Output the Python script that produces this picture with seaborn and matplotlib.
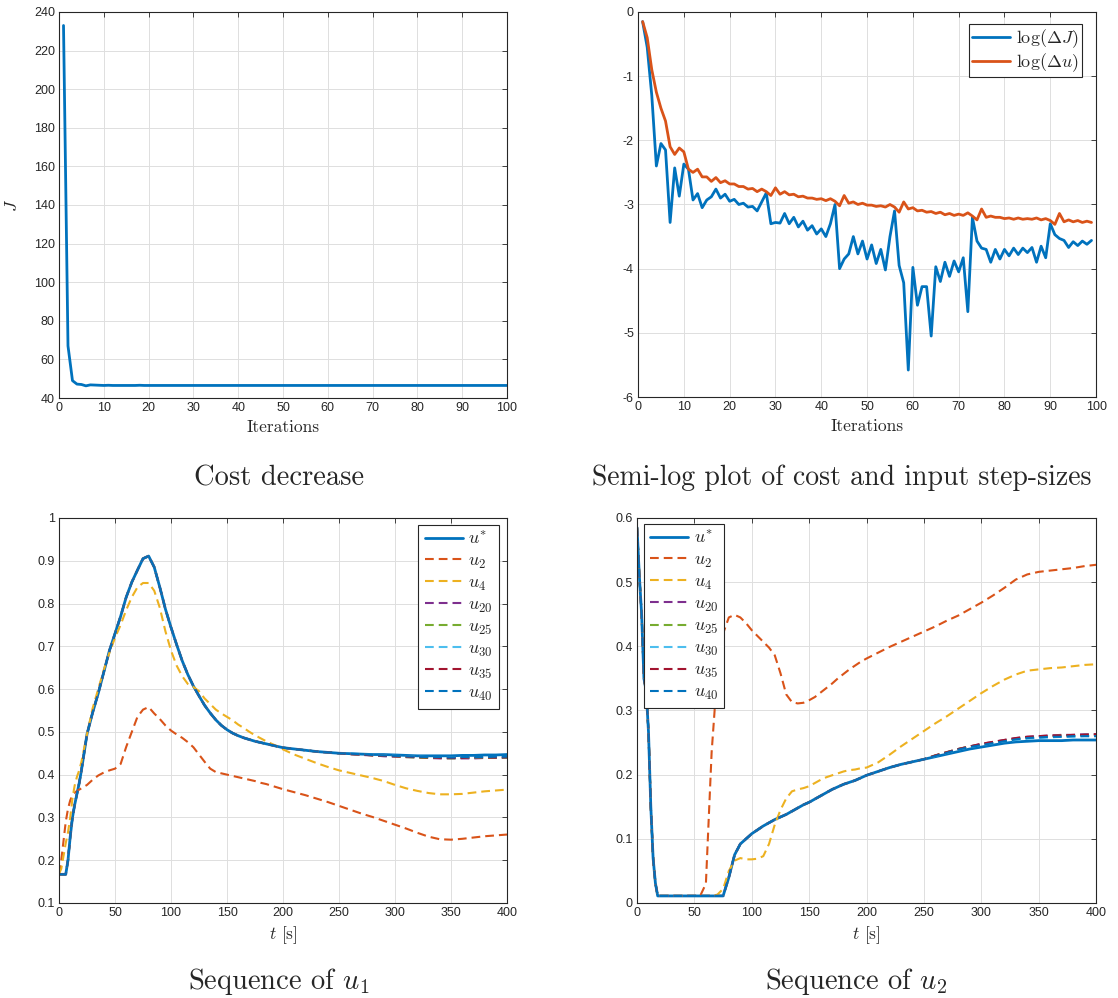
import numpy as np
import pandas as pd
import matplotlib
matplotlib.use('Agg')
import matplotlib.pyplot as plt
import seaborn as sns
from matplotlib.ticker import MultipleLocator, FuncFormatter

# ---------------- data ----------------
# cost per iteration
iters_J = list(range(1, 101))
J = [233.0, 67.0, 49.0, 47.2, 47.0, 46.3, 46.8, 46.7, 46.6, 46.5,
     46.6, 46.5, 46.5, 46.5, 46.5, 46.5, 46.5, 46.6, 46.5, 46.5,
     46.5, 46.5, 46.5, 46.5, 46.5, 46.5, 46.5, 46.5, 46.5, 46.5,
     46.5, 46.5, 46.5, 46.5, 46.5, 46.5, 46.5, 46.5, 46.5, 46.5,
     46.5, 46.5, 46.5, 46.5, 46.5, 46.5, 46.5, 46.5, 46.5, 46.5,
     46.5, 46.5, 46.5, 46.5, 46.5, 46.5, 46.5, 46.5, 46.5, 46.5,
     46.5, 46.5, 46.5, 46.5, 46.5, 46.5, 46.5, 46.5, 46.5, 46.5,
     46.5, 46.5, 46.5, 46.5, 46.5, 46.5, 46.5, 46.5, 46.5, 46.5,
     46.5, 46.5, 46.5, 46.5, 46.5, 46.5, 46.5, 46.5, 46.5, 46.5,
     46.5, 46.5, 46.5, 46.5, 46.5, 46.5, 46.5, 46.5, 46.5, 46.5]

# log step sizes per iteration
iters_d = list(range(1, 100))
log_dJ = [-0.15, -0.55, -1.3, -2.4, -2.05, -2.15, -3.28, -2.43, -2.87, -2.37,
          -2.45, -2.93, -2.83, -3.05, -2.93, -2.88, -2.76, -2.9, -2.84, -2.95,
          -2.92, -3.0, -2.98, -3.04, -3.03, -3.1, -2.96, -2.82, -3.3, -3.28,
          -3.29, -3.14, -3.3, -3.2, -3.35, -3.26, -3.4, -3.33, -3.46, -3.38,
          -3.5, -3.3, -3.0, -4.0, -3.85, -3.77, -3.5, -3.77, -3.57, -3.85,
          -3.63, -3.92, -3.7, -4.02, -3.5, -3.1, -3.95, -4.22, -5.58, -3.98,
          -4.57, -4.28, -4.28, -5.05, -3.97, -4.2, -3.9, -4.12, -3.88, -4.05,
          -3.83, -4.67, -3.2, -3.57, -3.68, -3.7, -3.9, -3.7, -3.85, -3.7,
          -3.8, -3.68, -3.78, -3.68, -3.75, -3.67, -3.9, -3.65, -3.83, -3.3,
          -3.47, -3.53, -3.56, -3.67, -3.58, -3.64, -3.57, -3.62, -3.56]
log_du = [-0.15, -0.4, -0.9, -1.25, -1.5, -1.7, -2.1, -2.22, -2.12, -2.18,
          -2.45, -2.5, -2.45, -2.57, -2.57, -2.64, -2.58, -2.66, -2.63, -2.68,
          -2.68, -2.72, -2.72, -2.76, -2.75, -2.8, -2.76, -2.8, -2.86, -2.74,
          -2.84, -2.8, -2.85, -2.84, -2.88, -2.87, -2.9, -2.9, -2.92, -2.91,
          -2.94, -2.91, -2.95, -3.02, -2.86, -2.98, -2.96, -3.0, -2.98, -3.01,
          -3.01, -3.03, -3.02, -3.04, -3.0, -3.04, -3.12, -2.96, -3.07, -3.05,
          -3.1, -3.09, -3.12, -3.11, -3.14, -3.12, -3.16, -3.14, -3.17, -3.15,
          -3.17, -3.13, -3.18, -3.24, -3.07, -3.2, -3.18, -3.2, -3.2, -3.22,
          -3.21, -3.23, -3.21, -3.23, -3.22, -3.23, -3.21, -3.24, -3.22, -3.25,
          -3.31, -3.14, -3.27, -3.24, -3.27, -3.25, -3.28, -3.26, -3.28]

# sampling instants [s]
t = np.concatenate([np.arange(0, 21, 2), np.arange(25, 201, 5), np.arange(210, 401, 10)])

# input 1
u_star_1 = [0.167, 0.167, 0.167, 0.167, 0.2, 0.255, 0.3, 0.33, 0.355, 0.38, 0.41,
            0.495, 0.545, 0.59, 0.64, 0.69, 0.73, 0.77, 0.815, 0.85, 0.878,
            0.905, 0.911, 0.885, 0.838, 0.787, 0.744, 0.704, 0.666, 0.634, 0.607,
            0.584, 0.562, 0.544, 0.528, 0.515, 0.505, 0.497, 0.491, 0.486, 0.482,
            0.478, 0.475, 0.472, 0.469, 0.466, 0.463,
            0.46, 0.457, 0.454, 0.452, 0.45, 0.449, 0.448, 0.447, 0.447, 0.446,
            0.445, 0.444, 0.444, 0.444, 0.444, 0.445, 0.445, 0.446, 0.446, 0.447]
u2_1 = [0.168, 0.2, 0.245, 0.29, 0.32, 0.34, 0.352, 0.358, 0.362, 0.365, 0.368,
        0.376, 0.388, 0.398, 0.405, 0.41, 0.414, 0.425, 0.465, 0.5, 0.535,
        0.552, 0.558, 0.543, 0.53, 0.515, 0.503, 0.494, 0.486, 0.476, 0.464,
        0.447, 0.43, 0.414, 0.406, 0.403, 0.4, 0.397, 0.394, 0.391, 0.388,
        0.385, 0.381, 0.378, 0.374, 0.37, 0.366,
        0.359, 0.352, 0.344, 0.336, 0.327, 0.318, 0.309, 0.301, 0.292, 0.283,
        0.274, 0.264, 0.255, 0.249, 0.248, 0.25, 0.253, 0.256, 0.258, 0.26]
u4_1 = [0.168, 0.18, 0.21, 0.24, 0.265, 0.3, 0.345, 0.375, 0.395, 0.41, 0.43,
        0.495, 0.555, 0.6, 0.645, 0.685, 0.72, 0.75, 0.785, 0.815, 0.838,
        0.848, 0.848, 0.83, 0.79, 0.735, 0.69, 0.655, 0.63, 0.612, 0.605,
        0.595, 0.578, 0.565, 0.552, 0.543, 0.535, 0.527, 0.517, 0.509, 0.5,
        0.492, 0.485, 0.478, 0.472, 0.466, 0.459,
        0.447, 0.437, 0.427, 0.418, 0.41, 0.404, 0.398, 0.392, 0.385, 0.376,
        0.368, 0.362, 0.357, 0.354, 0.354, 0.355, 0.358, 0.361, 0.363, 0.365]
# later iterates sit on u* until t = 260 s
u20_1 = u_star_1[:52] + [0.448, 0.446, 0.445, 0.443, 0.442, 0.441, 0.44, 0.439,
                         0.438, 0.438, 0.438, 0.438, 0.439, 0.439, 0.439]
u25_1 = u_star_1[:52] + [0.448, 0.447, 0.445, 0.444, 0.443, 0.441, 0.44, 0.439,
                         0.439, 0.438, 0.439, 0.439, 0.439, 0.44, 0.44]
u30_1 = u_star_1[:52] + [0.449, 0.447, 0.446, 0.445, 0.444, 0.443, 0.442, 0.441,
                         0.44, 0.44, 0.44, 0.44, 0.441, 0.441, 0.441]
u35_1 = u_star_1[:52] + [0.448, 0.447, 0.445, 0.444, 0.443, 0.442, 0.441, 0.44,
                         0.439, 0.439, 0.439, 0.44, 0.44, 0.44, 0.441]
u40_1 = u_star_1[:52] + [0.449, 0.448, 0.446, 0.445, 0.444, 0.443, 0.442, 0.441,
                         0.441, 0.44, 0.441, 0.441, 0.441, 0.442, 0.442]

# input 2
u_star_2 = [0.585, 0.51, 0.45, 0.35, 0.33, 0.266, 0.15, 0.07, 0.031, 0.011, 0.011,
            0.011, 0.011, 0.011, 0.011, 0.011, 0.011, 0.011, 0.011, 0.011, 0.011,
            0.011, 0.04, 0.075, 0.092, 0.1, 0.108, 0.114, 0.12, 0.125, 0.13,
            0.134, 0.138, 0.143, 0.148, 0.153, 0.157, 0.162, 0.167, 0.172, 0.177,
            0.181, 0.185, 0.188, 0.191, 0.195, 0.199,
            0.205, 0.211, 0.216, 0.22, 0.224, 0.228, 0.232, 0.236, 0.24, 0.243,
            0.246, 0.249, 0.251, 0.252, 0.253, 0.253, 0.253, 0.254, 0.254, 0.254]
u2_2 = [0.585, 0.51, 0.45, 0.35, 0.33, 0.266, 0.15, 0.07, 0.031, 0.011, 0.011,
        0.011, 0.011, 0.011, 0.011, 0.011, 0.011, 0.011, 0.03, 0.235, 0.36,
        0.42, 0.445, 0.449, 0.445, 0.436, 0.425, 0.416, 0.407, 0.398, 0.386,
        0.358, 0.325, 0.313, 0.311, 0.312, 0.316, 0.321, 0.328, 0.335, 0.342,
        0.35, 0.357, 0.364, 0.37, 0.376, 0.381,
        0.39, 0.399, 0.407, 0.415, 0.423, 0.431, 0.44, 0.448, 0.458, 0.468,
        0.479, 0.491, 0.504, 0.512, 0.516, 0.518, 0.52, 0.522, 0.525, 0.527]
u4_2 = [0.585, 0.51, 0.45, 0.35, 0.33, 0.266, 0.15, 0.07, 0.031, 0.011, 0.011,
        0.011, 0.011, 0.011, 0.011, 0.011, 0.011, 0.011, 0.011, 0.011, 0.013,
        0.022, 0.05, 0.066, 0.07, 0.068, 0.068, 0.069, 0.073, 0.092, 0.122,
        0.145, 0.163, 0.174, 0.177, 0.179, 0.182, 0.187, 0.192, 0.196, 0.199,
        0.202, 0.205, 0.207, 0.208, 0.21, 0.211,
        0.219, 0.231, 0.244, 0.256, 0.268, 0.28, 0.291, 0.303, 0.315, 0.327,
        0.338, 0.348, 0.356, 0.362, 0.364, 0.366, 0.367, 0.369, 0.371, 0.372]
u20_2 = u_star_2[:52] + [0.23, 0.235, 0.24, 0.244, 0.248, 0.251, 0.254, 0.257,
                         0.259, 0.26, 0.261, 0.262, 0.262, 0.263, 0.263]
u25_2 = u_star_2[:52] + [0.23, 0.235, 0.24, 0.244, 0.247, 0.25, 0.253, 0.256,
                         0.258, 0.259, 0.26, 0.261, 0.261, 0.262, 0.262]
u30_2 = u_star_2[:52] + [0.229, 0.234, 0.239, 0.243, 0.246, 0.249, 0.252, 0.254,
                         0.256, 0.257, 0.258, 0.259, 0.259, 0.26, 0.26]
u35_2 = u_star_2[:52] + [0.23, 0.235, 0.24, 0.244, 0.248, 0.251, 0.254, 0.257,
                         0.259, 0.26, 0.261, 0.261, 0.262, 0.262, 0.263]
u40_2 = u_star_2[:52] + [0.229, 0.234, 0.239, 0.243, 0.246, 0.249, 0.252, 0.255,
                         0.257, 0.258, 0.259, 0.259, 0.26, 0.26, 0.26]

# MATLAB default colour order
blue, orange, yellow = '#0072BD', '#D95319', '#EDB120'
purple, green, cyan, maroon = '#7E2F8E', '#77AC30', '#4DBEEE', '#A2142F'

# ---------------- style ----------------
sns.set_theme(style='white')
plt.rcParams['font.family'] = ['Liberation Sans', 'DejaVu Sans']
plt.rcParams.update({
    'mathtext.fontset': 'cm',
    'axes.unicode_minus': False,
    'axes.edgecolor': '#262626',
    'axes.linewidth': 0.8,
    'xtick.direction': 'in', 'ytick.direction': 'in',
    'xtick.top': True, 'ytick.right': True,
    'xtick.major.size': 3.6, 'ytick.major.size': 3.6,
    'xtick.major.width': 0.6, 'ytick.major.width': 0.6,
    'xtick.color': '#262626', 'ytick.color': '#262626',
    'xtick.labelsize': 9, 'ytick.labelsize': 9,
    'xtick.major.pad': 3, 'ytick.major.pad': 3,
    'lines.dashed_pattern': [4.2, 2.4],
})
serif = 'cmr10'
gfmt = FuncFormatter(lambda v, p: '%g' % round(v, 6))

fig = plt.figure(figsize=(11.18, 9.98), dpi=100)
ax1 = fig.add_axes([0.0528, 0.6012, 0.4007, 0.3868])
ax2 = fig.add_axes([0.5707, 0.6022, 0.4097, 0.3858])
ax3 = fig.add_axes([0.0528, 0.0952, 0.4007, 0.3858])
ax4 = fig.add_axes([0.5698, 0.0952, 0.4106, 0.3858])


def style_axes(ax, xlim, ylim, xstep, ystep):
    ax.set_xlim(*xlim)
    ax.set_ylim(*ylim)
    ax.xaxis.set_major_locator(MultipleLocator(xstep))
    ax.yaxis.set_major_locator(MultipleLocator(ystep))
    ax.xaxis.set_major_formatter(gfmt)
    ax.yaxis.set_major_formatter(gfmt)
    ax.grid(True, color='#dedede', linewidth=0.7)
    ax.set_axisbelow(True)
    for s in ax.spines.values():
        s.set_visible(True)


def legend_box(ax, loc, anchor, spacing=0.22, pad=0.35):
    leg = ax.legend(loc=loc, bbox_to_anchor=anchor, borderaxespad=0,
                    fontsize=13, fancybox=False, framealpha=1,
                    handlelength=2.1, handletextpad=0.3, labelspacing=spacing,
                    borderpad=pad)
    leg.get_frame().set_edgecolor('#262626')
    leg.get_frame().set_linewidth(0.8)


# cost decrease
sns.lineplot(x=iters_J, y=J, ax=ax1, color=blue, linewidth=2,
             estimator=None, sort=False)
style_axes(ax1, (0, 100), (40, 240), 10, 20)
ax1.set_xlabel('Iterations', fontsize=12.5, family=serif)
ax1.set_ylabel('$J$', fontsize=12.5)
ax1.xaxis.set_label_coords(0.5, -0.055)
ax1.yaxis.set_label_coords(-0.088, 0.5)

# semi-log plot
sns.lineplot(x=iters_d, y=log_dJ, ax=ax2, color=blue, linewidth=2,
             estimator=None, sort=False, label=r'$\log(\Delta J)$')
sns.lineplot(x=iters_d, y=log_du, ax=ax2, color=orange, linewidth=2,
             estimator=None, sort=False, label=r'$\log(\Delta u)$')
style_axes(ax2, (0, 100), (-6, 0), 10, 1)
ax2.set_xlabel('Iterations', fontsize=12.5, family=serif)
ax2.set_ylabel('')
ax2.xaxis.set_label_coords(0.5, -0.055)
legend_box(ax2, 'upper right', (0.969, 0.969), spacing=0.05, pad=0.2)

# sequences of u1 and u2
series = [
    ('u_star', r'$u^{*}$', blue, '-', 2.0),
    ('u2', r'$u_{2}$', orange, '--', 1.5),
    ('u4', r'$u_{4}$', yellow, '--', 1.5),
    ('u20', r'$u_{20}$', purple, '--', 1.5),
    ('u25', r'$u_{25}$', green, '--', 1.5),
    ('u30', r'$u_{30}$', cyan, '--', 1.5),
    ('u35', r'$u_{35}$', maroon, '--', 1.5),
    ('u40', r'$u_{40}$', blue, '--', 1.5),
]
data_u1 = {'u_star': u_star_1, 'u2': u2_1, 'u4': u4_1, 'u20': u20_1,
           'u25': u25_1, 'u30': u30_1, 'u35': u35_1, 'u40': u40_1}
data_u2 = {'u_star': u_star_2, 'u2': u2_2, 'u4': u4_2, 'u20': u20_2,
           'u25': u25_2, 'u30': u30_2, 'u35': u35_2, 'u40': u40_2}

for ax, data in [(ax3, data_u1), (ax4, data_u2)]:
    df = pd.DataFrame(data)
    df['t'] = t
    for key, lab, col, ls, lw in series:
        sns.lineplot(data=df, x='t', y=key, ax=ax, color=col, linestyle=ls,
                     linewidth=lw, estimator=None, sort=False, label=lab)
    ax.set_xlabel('$t$ [s]', fontsize=12.5, family=serif)
    ax.set_ylabel('')
    ax.xaxis.set_label_coords(0.5, -0.055)

style_axes(ax3, (0, 400), (0.1, 1.0), 50, 0.1)
style_axes(ax4, (0, 400), (0, 0.6), 50, 0.1)
legend_box(ax3, 'upper right', (0.982, 0.982))
legend_box(ax4, 'upper left', (0.015, 0.984))

# captions under the panels
fig.text(279 / 1118, 1 - 485 / 998, 'Cost decrease', family=serif,
         fontsize=20.5, ha='center', va='baseline')
fig.text(842 / 1118, 1 - 485 / 998, 'Semi-log plot of cost and input step-sizes',
         family=serif, fontsize=20, ha='center', va='baseline')
fig.text(279 / 1118, 1 - 989 / 998, 'Sequence of $u_1$', family=serif,
         fontsize=20.5, ha='center', va='baseline')
fig.text(856 / 1118, 1 - 989 / 998, 'Sequence of $u_2$', family=serif,
         fontsize=20.5, ha='center', va='baseline')

fig.savefig('out.png', dpi=100)
